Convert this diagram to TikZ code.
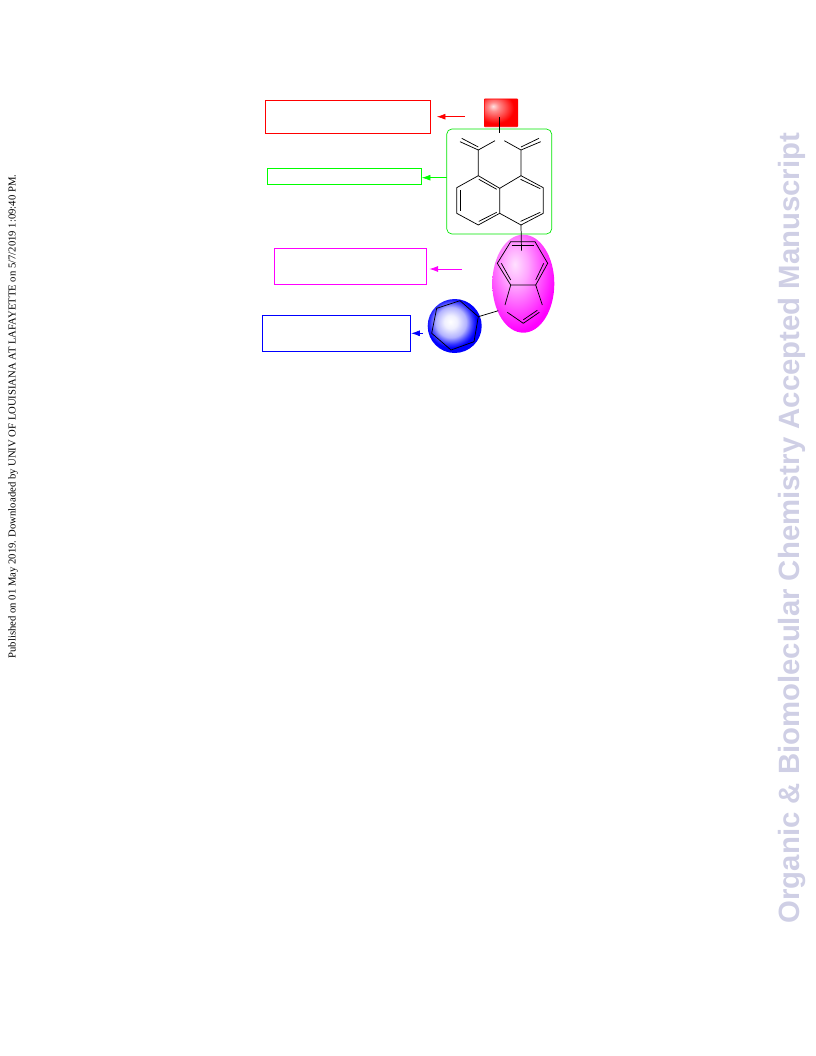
\documentclass[tikz,border=0pt]{standalone}
\usepackage{fontspec}
\setmainfont{Liberation Serif}
\newfontfamily\marksans{Liberation Sans}
\usepackage{xcolor}
\usetikzlibrary{arrows.meta,calc,shapes.geometric}
\definecolor{markgrey}{rgb}{0.81, 0.81, 0.90}
\definecolor{pinkpure}{rgb}{1, 0, 1}
\pgfdeclareradialshading{redglow}{\pgfpoint{-12bp}{12bp}}{color(0bp)=(red!12!white); color(8bp)=(red!45!white); color(28bp)=(red); color(100bp)=(red)}
\pgfdeclareradialshading{pinkglow}{\pgfpoint{-7bp}{10bp}}{color(0bp)=(pinkpure!12!white); color(10bp)=(pinkpure!35!white); color(31bp)=(pinkpure); color(100bp)=(pinkpure)}
\pgfdeclareradialshading{blueglow}{\pgfpoint{-4bp}{4bp}}{color(0bp)=(white); color(6bp)=(blue!6!white); color(14bp)=(blue!30!white); color(20bp)=(blue!80!white); color(23bp)=(blue); color(100bp)=(blue)}
\tikzset{
    labelbox/.style={
        draw,
        rectangle,
        line width=0.75pt,
        inner sep=0pt,
    },
    pointer/.style={
        -{Latex[length=6.5pt,width=4.5pt]},
        line width=0.5pt,
    },
    bond/.style={
        black,
        line width=0.55pt,
    },
}

\begin{document}
\begin{tikzpicture}[x=0.75pt, y=-0.75pt]
    \useasboundingbox (0, 0) rectangle (816, 1056);

    % Margin texts, vertical
    \node[rotate=90, font=\fontsize{8}{9}\selectfont] (stamp) at (13, 416.5)
      {Published on 01 May 2019. Downloaded by UNIV OF LOUISIANA AT LAFAYETTE on 5/7/2019 1:09:40 PM.};
    \node[rotate=90, text=markgrey, font=\marksans\bfseries\fontsize{22}{26}\selectfont] (watermark) at (791.5, 528)
      {Organic \& Biomolecular Chemistry Accepted Manuscript};

    % Empty label boxes on the left
    \node[labelbox, red, minimum width=123.75pt, minimum height=25pt] (redbox) at (348.2, 116.7) {};
    \node[labelbox, green, minimum width=115.2pt, minimum height=11.7pt] (greenbox) at (344.5, 176.5) {};
    \node[labelbox, pinkpure, minimum width=113.7pt, minimum height=27pt] (pinkbox) at (350.5, 266.3) {};
    \node[labelbox, blue, minimum width=111pt, minimum height=27pt] (bluebox) at (336.7, 333.3) {};

    % Coloured parts behind the molecule
    \node[draw=red, line width=0.5pt, shade, shading=redglow, rectangle, rounded corners=0.5pt, inner sep=0pt,
      minimum width=25pt, minimum height=20.8pt] (redpart) at (501, 112.8) {};
    \node[draw=green!90!black, line width=0.5pt, rectangle, rounded corners=4pt, inner sep=0pt,
      minimum width=78.8pt, minimum height=78.8pt] (greenpart) at (499.2, 181.5) {};
    \node[shade, shading=pinkglow, ellipse, inner sep=0pt,
      minimum width=46.5pt, minimum height=73.5pt] (pinkpart) at (523.3, 283.7) {};
    \node[shade, shading=blueglow, circle, inner sep=0pt,
      minimum size=40.5pt] (bluepart) at (454.7, 326) {};

    % Arrows from the parts to the boxes
    \coordinate (redtail) at (465, 116.7);
    \coordinate (greentail) at (446.7, 177.7);
    \coordinate (pinktail) at (461.7, 269);
    \coordinate (bluetail) at (422.7, 333.3);
    \draw[pointer, red, shorten >=4.2pt] (redtail) -- (redtail -| redbox.east);
    \draw[pointer, green] (greentail) -- (greentail -| greenbox.east);
    \draw[pointer, pinkpure, shorten >=2pt] (pinktail) -- (pinktail -| pinkbox.east);
    \draw[pointer, blue] (bluetail) -- (bluetail -| bluebox.east);

    % Atoms of the naphthalimide part
    \coordinate (nup) at (499.7, 117.3);
    \coordinate (ndown) at (499.7, 133.3);
    \coordinate (nleft) at (495, 140.7);
    \coordinate (nright) at (504.3, 140.7);
    \coordinate (cleft) at (478.3, 150);
    \coordinate (cright) at (521, 150);
    \coordinate (oleft) at (460, 141.7);
    \coordinate (oright) at (540.7, 141.7);
    \coordinate (a1) at (478.3, 175.7);
    \coordinate (a2) at (456.7, 187.7);
    \coordinate (a3) at (456.7, 213.3);
    \coordinate (a4) at (478.3, 225);
    \coordinate (a5) at (499.7, 213.3);
    \coordinate (a6) at (499.7, 188.3);
    \coordinate (b1) at (521, 175.7);
    \coordinate (b2) at (543.3, 187.7);
    \coordinate (b3) at (543.3, 213.3);
    \coordinate (b4) at (521, 225);
    \coordinate (linkdown) at (521.5, 250.7);

    % Single bonds
    \draw[bond] (nup) -- (ndown);
    \draw[bond] (nleft) -- (cleft) -- (a1) -- (a2) -- (a3) -- (a4) -- (a5) -- (a6) -- (a1);
    \draw[bond] (nright) -- (cright) -- (b1) -- (a6);
    \draw[bond] (b1) -- (b2) -- (b3) -- (b4) -- (a5);
    \draw[bond] (b4) -- (linkdown);
    % Double bonds
    \draw[bond] (cleft) -- (oleft);
    \draw[bond] ($(cleft)+(0,-3)$) -- ($(oleft)+(1.7,-3.4)$);
    \draw[bond] (cright) -- (oright);
    \draw[bond] ($(cright)+(0,-3)$) -- ($(oright)+(-1.7,-3.4)$);
    \draw[bond] ($(a1)+(0.5,3.6)$) -- ($(a6)+(-3,1)$);
    \draw[bond] ($(a2)+(3.4,2.5)$) -- ($(a3)+(3.4,-2.5)$);
    \draw[bond] ($(a4)+(0.5,-3.6)$) -- ($(a5)+(-3,-1)$);
    \draw[bond] ($(b1)+(-0.5,3.6)$) -- ($(b2)+(-3,1)$);
    \draw[bond] ($(b4)+(-0.5,-3.6)$) -- ($(b3)+(-3,-1)$);

    % Atoms of the indole part
    \coordinate (i1) at (510.7, 241.7);
    \coordinate (i2) at (535, 241.7);
    \coordinate (i3) at (547.7, 263.3);
    \coordinate (i4) at (535.7, 285);
    \coordinate (i5) at (510.7, 285);
    \coordinate (i6) at (497.3, 263.3);
    \coordinate (i7) at (505, 305);
    \coordinate (i8) at (542.3, 305);
    \coordinate (i9) at (507.3, 312.3);
    \coordinate (i10) at (523.3, 323.3);
    \coordinate (i11) at (539.3, 312.3);
    \draw[bond] (i1) -- (i2) -- (i3) -- (i4) -- (i5) -- (i6) -- cycle;
    \draw[bond] (i5) -- (i7);
    \draw[bond] (i4) -- (i8);
    \draw[bond] (i9) -- (i10) -- (i11);
    % Double bonds
    \draw[bond] ($(i1)+(1,3.7)$) -- ($(i2)+(-1,3.7)$);
    \draw[bond] ($(i6)+(4,0)$) -- ($(i5)+(0,-5)$);
    \draw[bond] ($(i3)+(-4,0)$) -- ($(i4)+(0,-5)$);
    \draw[bond] ($(i10)+(0,-3.5)$) -- ($(i11)+(-2,-2)$);

    % Atoms of the phenyl part
    \coordinate (p1) at (436.7, 308.3);
    \coordinate (p2) at (460, 300.7);
    \coordinate (p3) at (478.3, 316.7);
    \coordinate (p4) at (474, 341.7);
    \coordinate (p5) at (451, 350);
    \coordinate (p6) at (431.7, 333.3);
    \coordinate (linkout) at (498.3, 310.7);
    \draw[bond] (p1) -- (p2) -- (p3) -- (p4) -- (p5) -- (p6) -- cycle;
    \draw[bond] (p3) -- (linkout);
\end{tikzpicture}
\end{document}
